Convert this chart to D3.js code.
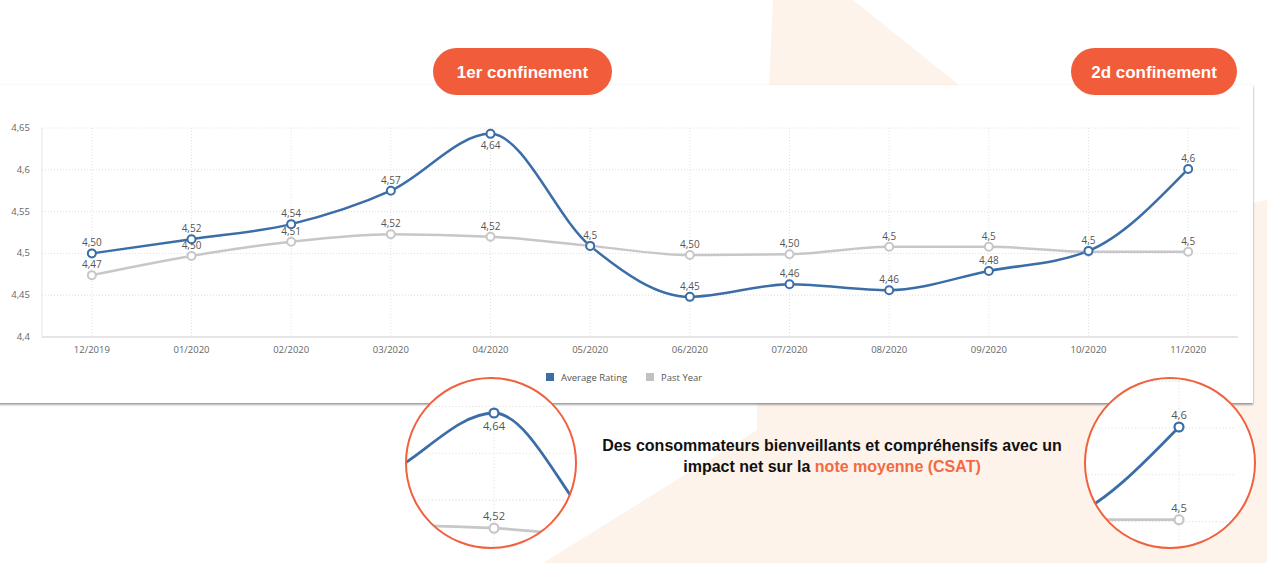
<!DOCTYPE html>
<html>
<head>
<meta charset="utf-8">
<script src="https://cdn.jsdelivr.net/npm/d3@7/dist/d3.min.js"></script>
<style>
  body { margin: 0; background: #fff; }
  svg { display: block; }
</style>
</head>
<body>
<svg id="chart"></svg>
<script>
// months on the x axis
const months = ["12/2019", "01/2020", "02/2020", "03/2020", "04/2020", "05/2020",
  "06/2020", "07/2020", "08/2020", "09/2020", "10/2020", "11/2020"];

// Average Rating (blue) and its printed labels
const avgRating = [4.500, 4.517, 4.535, 4.575, 4.643, 4.509, 4.448, 4.463, 4.456, 4.479, 4.503, 4.601];
const avgLabels = ["4,50", "4,52", "4,54", "4,57", "4,64", "4,5", "4,45", "4,46", "4,46", "4,48", "4,5", "4,6"];

// Past Year (grey) and its printed labels
const pastYear = [4.474, 4.497, 4.514, 4.523, 4.520, 4.509, 4.498, 4.499, 4.508, 4.508, 4.502, 4.502];
const pastLabels = ["4,47", "4,50", "4,51", "4,52", "4,52", "4,5", "4,50", "4,50", "4,5", "4,5", "4,5", "4,5"];

// y axis ticks
const yTicks = [4.4, 4.45, 4.5, 4.55, 4.6, 4.65];
const yTickLabels = ["4,4", "4,45", "4,5", "4,55", "4,6", "4,65"];

const W = 1267, H = 563;
const blue = "#3b6ea7", grey = "#c7c7c7", orange = "#f15c3a", peach = "#fdf3ea";

const svg = d3.select("#chart").attr("width", W).attr("height", H);
const defs = svg.append("defs");

// drop shadow of the white card
const shadow = defs.append("filter").attr("id", "shadow")
  .attr("x", "-5%").attr("y", "-10%").attr("width", "110%").attr("height", "120%");
shadow.append("feDropShadow").attr("dx", 0).attr("dy", 1.5)
  .attr("stdDeviation", 1.2).attr("flood-color", "#000").attr("flood-opacity", 0.45);

// background peach shapes
svg.append("polygon").attr("fill", peach)
  .attr("points", "773,0 853,0 960,86 769,86");
svg.append("polygon").attr("fill", peach)
  .attr("points", "757,300 1267,200 1267,563 543,563 757,430");

// white card
svg.append("rect").attr("x", -20).attr("y", 85).attr("width", 1273).attr("height", 318)
  .attr("fill", "#fff").attr("filter", "url(#shadow)");

// scales
const x = d3.scalePoint().domain(months).range([42, 1238]).padding(0.5);
const y = d3.scaleLinear().domain([4.4, 4.65]).range([337, 128]);

const series = [
  {name: "Past Year", values: pastYear, labels: pastLabels, color: grey},
  {name: "Average Rating", values: avgRating, labels: avgLabels, color: blue}
];

// grey label hidden where it sits on the identical blue one
const sameSpot = i => pastLabels[i] === avgLabels[i] && Math.abs(pastYear[i] - avgRating[i]) < 0.005;

const line = d3.line()
  .x((d, i) => x(months[i]))
  .y(d => y(d))
  .curve(d3.curveMonotoneX);

// draws grid, lines, markers and data labels into a group
function drawPlot(g, showLabel) {
  g.append("g").selectAll("line").data(yTicks.slice(1)).join("line")
    .attr("x1", 42).attr("x2", 1238)
    .attr("y1", d => y(d)).attr("y2", d => y(d))
    .attr("stroke", "#dedede").attr("stroke-width", 1).attr("stroke-dasharray", "1,2");

  g.append("g").selectAll("line").data(months).join("line")
    .attr("x1", d => x(d)).attr("x2", d => x(d))
    .attr("y1", y(4.65)).attr("y2", y(4.4))
    .attr("stroke", "#e2e2e2").attr("stroke-width", 1).attr("stroke-dasharray", "1,2");

  series.forEach(s => {
    g.append("path").datum(s.values)
      .attr("d", line)
      .attr("fill", "none")
      .attr("stroke", s.color)
      .attr("stroke-width", 2.5);
  });

  series.forEach(s => {
    g.append("g").selectAll("circle").data(s.values).join("circle")
      .attr("cx", (d, i) => x(months[i]))
      .attr("cy", d => y(d))
      .attr("r", 4)
      .attr("fill", "#fff")
      .attr("stroke", s.color)
      .attr("stroke-width", 2);

    const idx = s.values.map((d, i) => i).filter(i => showLabel(s, i));
    g.append("g").selectAll("text").data(idx).join("text")
      .attr("x", i => x(months[i]))
      .attr("y", i => s.labels[i] === "4,64" ? y(s.values[i]) + 15 : y(s.values[i]) - 7)
      .attr("text-anchor", "middle")
      .style("font-family", "'Open Sans', sans-serif")
      .style("font-size", "10px")
      .attr("fill", "#555")
      .text(i => s.labels[i]);
  });
}

// main chart
const main = svg.append("g");

// axis lines
main.append("line").attr("x1", 42).attr("x2", 1238).attr("y1", 337).attr("y2", 337)
  .attr("stroke", "#dcdcdc").attr("stroke-width", 1.5);
main.append("line").attr("x1", 42).attr("x2", 42).attr("y1", 128).attr("y2", 337)
  .attr("stroke", "#e6e6e6").attr("stroke-width", 1);

drawPlot(main, (s, i) => !(s.name === "Past Year" && sameSpot(i)));

// y tick labels
main.append("g").selectAll("text").data(yTicks).join("text")
  .attr("x", 30)
  .attr("y", d => y(d) + 3)
  .attr("text-anchor", "end")
  .style("font-family", "'Open Sans', sans-serif")
  .style("font-size", "9.5px")
  .attr("fill", "#666")
  .text((d, i) => yTickLabels[i]);

// x tick labels
main.append("g").selectAll("text").data(months).join("text")
  .attr("x", d => x(d))
  .attr("y", 353)
  .attr("text-anchor", "middle")
  .style("font-family", "'Open Sans', sans-serif")
  .style("font-size", "9.5px")
  .attr("fill", "#666")
  .text(d => d);

// legend
const legend = main.append("g");
[{name: "Average Rating", color: blue, x: 546}, {name: "Past Year", color: "#c2c2c2", x: 646}]
  .forEach(l => {
    legend.append("rect").attr("x", l.x).attr("y", 373).attr("width", 8).attr("height", 8)
      .attr("fill", l.color);
    legend.append("text").attr("x", l.x + 15).attr("y", 381)
      .style("font-family", "'Open Sans', sans-serif")
      .style("font-size", "9.5px")
      .attr("fill", "#555")
      .text(l.name);
  });

// orange pills
const pills = [
  {text: "1er confinement", x: 433, w: 179},
  {text: "2d confinement", x: 1071, w: 166}
];
pills.forEach(p => {
  svg.append("rect").attr("x", p.x).attr("y", 48).attr("width", p.w).attr("height", 47)
    .attr("rx", 23.5).attr("fill", orange);
  svg.append("text").attr("x", p.x + p.w / 2).attr("y", 78)
    .attr("text-anchor", "middle")
    .style("font-family", "'Liberation Sans', Arial, sans-serif")
    .style("font-weight", "bold")
    .style("font-size", "17px")
    .attr("fill", "#fff")
    .text(p.text);
});

// magnified circles
const k = 1.12;
const zooms = [
  {id: "zoomA", cx: 491, cy: 463, r: 85, at: 4, value: avgRating[4], tx: 494, ty: 413},
  {id: "zoomB", cx: 1170, cy: 463, r: 85, at: 11, value: avgRating[11], tx: 1179, ty: 427}
];
zooms.forEach(z => {
  defs.append("clipPath").attr("id", z.id)
    .append("circle").attr("cx", z.cx).attr("cy", z.cy).attr("r", z.r);
  svg.append("circle").attr("cx", z.cx).attr("cy", z.cy).attr("r", z.r).attr("fill", "#fff");
  const inner = svg.append("g").attr("clip-path", `url(#${z.id})`)
    .append("g")
    .attr("transform", `translate(${z.tx - k * x(months[z.at])},${z.ty - k * y(z.value)}) scale(${k})`);
  drawPlot(inner, (s, i) => i === z.at);
  svg.append("circle").attr("cx", z.cx).attr("cy", z.cy).attr("r", z.r)
    .attr("fill", "none").attr("stroke", "#f0613e").attr("stroke-width", 2);
});

// caption
const caption = svg.append("text")
  .attr("text-anchor", "middle")
  .style("font-family", "'Liberation Sans', Arial, sans-serif")
  .style("font-weight", "bold")
  .style("font-size", "16px")
  .attr("fill", "#111");
caption.append("tspan").attr("x", 832).attr("y", 451)
  .text("Des consommateurs bienveillants et compréhensifs avec un");
const line2 = caption.append("tspan").attr("x", 832).attr("y", 472);
line2.append("tspan").text("impact net sur la ");
line2.append("tspan").attr("fill", "#f26a45").text("note moyenne (CSAT)");
</script>
</body>
</html>
